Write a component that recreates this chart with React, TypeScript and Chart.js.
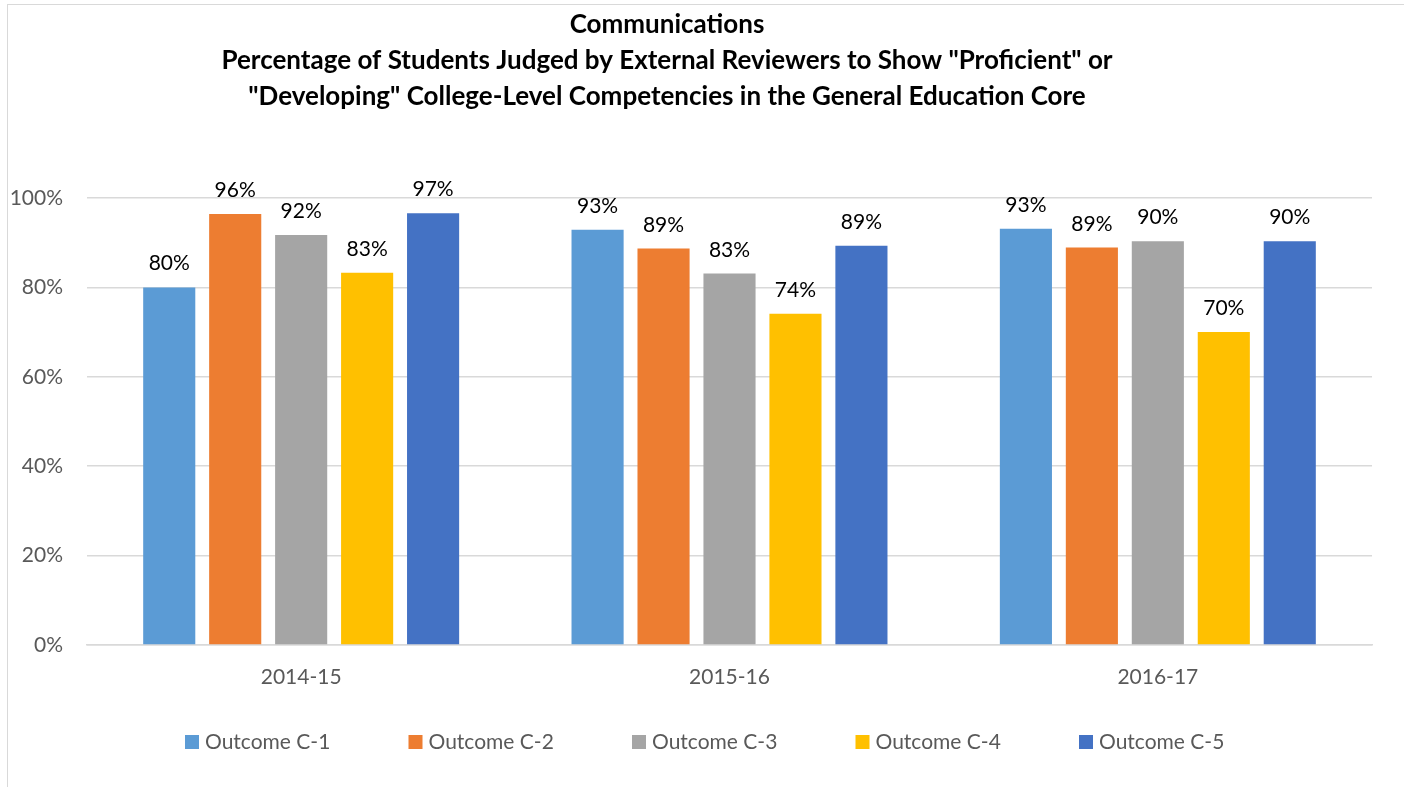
import React, { useEffect, useRef } from "react";
import { Chart, registerables } from "chart.js";
Chart.register(...registerables);

const categories = ["2014-15", "2015-16", "2016-17"];
const seriesNames = ["Outcome C-1", "Outcome C-2", "Outcome C-3", "Outcome C-4", "Outcome C-5"];
const outcomeC1 = [80.0, 92.9, 93.1];
const outcomeC2 = [96.4, 88.7, 88.9];
const outcomeC3 = [91.7, 83.1, 90.3];
const outcomeC4 = [83.3, 74.1, 70.0];
const outcomeC5 = [96.6, 89.3, 90.3];
const seriesColors = ["#5B9BD5", "#ED7D31", "#A5A5A5", "#FFC000", "#4472C4"];
const titleLines = [
  "Communications",
  "Percentage of Students Judged by External Reviewers to Show \"Proficient\" or",
  "\"Developing\" College-Level Competencies in the General Education Core",
];
const yTicks = [0, 20, 40, 60, 80, 100];

const FONT = "Lato, Carlito, 'Open Sans', sans-serif";

export default function App() {
  const ref = useRef<HTMLCanvasElement>(null);
  useEffect(() => {
    if (!ref.current) return;
    const allSeries = [outcomeC1, outcomeC2, outcomeC3, outcomeC4, outcomeC5];
    const titlePlugin = {
      id: "titleLines",
      afterDraw(chart: any) {
        const ctx = chart.ctx;
        ctx.save();
        ctx.fillStyle = "#000";
        ctx.font = `bold 26px ${FONT}`;
        ctx.textAlign = "center";
        ctx.textBaseline = "middle";
        const cx = 667;
        const ys = [25, 61, 97];
        titleLines.forEach((t, i) => ctx.fillText(t, cx, ys[i]));
        ctx.restore();
      },
    };
    const labelPlugin = {
      id: "valueLabels",
      afterDatasetsDraw(chart: any) {
        const ctx = chart.ctx;
        ctx.save();
        ctx.fillStyle = "#000";
        ctx.font = `21px ${FONT}`;
        ctx.textAlign = "center";
        ctx.textBaseline = "alphabetic";
        chart.data.datasets.forEach((ds: any, di: number) => {
          const meta = chart.getDatasetMeta(di);
          meta.data.forEach((bar: any, i: number) => {
            const v = ds.data[i];
            ctx.fillText(Math.round(v) + "%", bar.x, bar.y - 17);
          });
        });
        ctx.restore();
      },
    };
    const legendPlugin = {
      id: "customLegend",
      afterDraw(chart: any) {
        const ctx = chart.ctx;
        ctx.save();
        ctx.font = `21px ${FONT}`;
        ctx.textBaseline = "middle";
        ctx.textAlign = "left";
        const y = 742;
        const start = 185;
        const step = 223.5;
        seriesNames.forEach((n, i) => {
          const x = start + i * step;
          ctx.fillStyle = seriesColors[i];
          ctx.fillRect(x, y - 7, 14, 14);
          ctx.fillStyle = "#595959";
          ctx.fillText(n, x + 20, y);
        });
        ctx.restore();
      },
    };
    const chart = new Chart(ref.current, {
      type: "bar",
      data: {
        labels: categories,
        datasets: seriesNames.map((n, i) => ({
          label: n,
          data: allSeries[i],
          backgroundColor: seriesColors[i],
          borderWidth: 0,
          categoryPercentage: 0.77,
          barPercentage: 0.79,
        })),
      },
      options: {
        animation: false,
        responsive: false,
        layout: { padding: { top: 198, right: 32, left: 0, bottom: 0 } },
        plugins: { legend: { display: false }, title: { display: false }, tooltip: { enabled: false } },
        scales: {
          x: {
            grid: { display: false, drawTicks: false },
            border: { display: true, color: "#d9d9d9", width: 1.5 },
            ticks: { color: "#595959", font: { family: FONT, size: 21 }, padding: 20 },
            afterFit(scale: any) { scale.height = 142; },
          },
          y: {
            min: 0,
            max: 100,
            afterBuildTicks(scale: any) { scale.ticks = yTicks.map((v) => ({ value: v })); },
            grid: { color: "#d9d9d9", lineWidth: 1.5, drawTicks: false },
            border: { display: false },
            ticks: {
              color: "#595959",
              font: { family: FONT, size: 21 },
              padding: 24,
              callback: (v: any) => v + "%",
            },
            afterFit(scale: any) { scale.width = 87; },
          },
        },
      },
      plugins: [titlePlugin, labelPlugin, legendPlugin],
    });
    return () => chart.destroy();
  }, []);
  return (
    <div style={{ position: "fixed", left: 0, top: 0, width: 1404, height: 787, background: "#fff", overflow: "hidden" }}>
      <div style={{ position: "absolute", left: 7, top: 4, width: 1400, height: 800, border: "1.5px solid #d9d9d9", boxSizing: "border-box" }} />
      <canvas ref={ref} width={1404} height={787} style={{ position: "absolute", left: 0, top: 0 }} />
    </div>
  );
}
